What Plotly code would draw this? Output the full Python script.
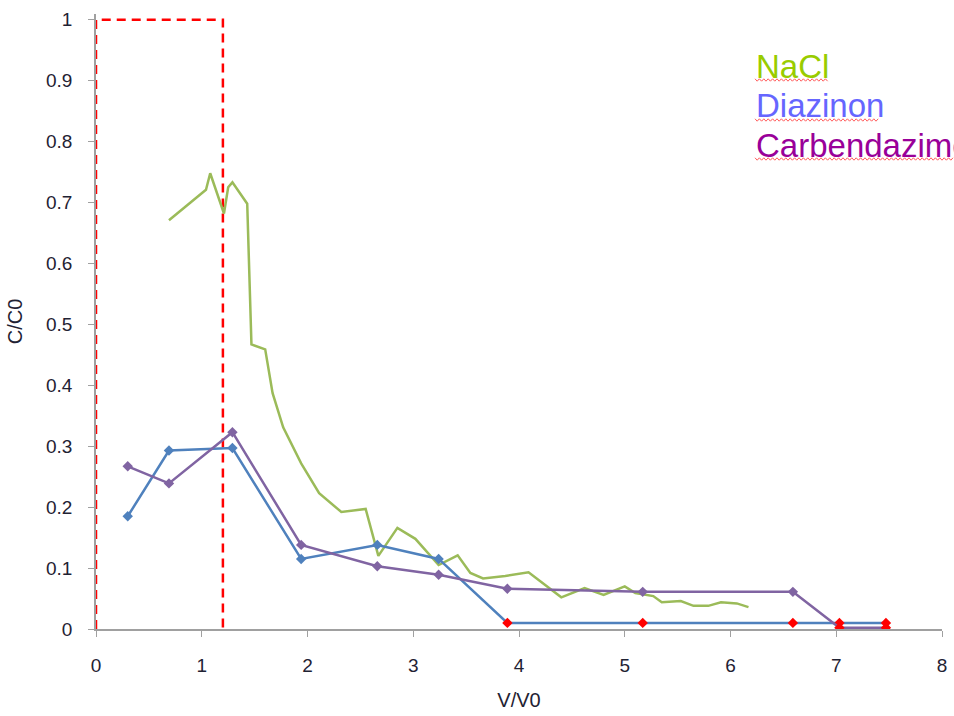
import plotly.graph_objects as go

# NaCl (no markers)
nacl_x = [0.69, 1.04, 1.08, 1.21, 1.25, 1.29, 1.43, 1.47, 1.60, 1.67, 1.77, 1.94, 2.11, 2.32, 2.55, 2.67,
          2.85, 3.02, 3.24, 3.42, 3.54, 3.66, 3.87, 4.09, 4.40, 4.62, 4.80, 5.00, 5.10, 5.27, 5.35,
          5.53, 5.65, 5.79, 5.91, 6.06, 6.17]
nacl_y = [0.671, 0.721, 0.748, 0.682, 0.725, 0.733, 0.698, 0.467, 0.459, 0.387, 0.331, 0.272, 0.223, 0.192,
          0.197, 0.120, 0.166, 0.148, 0.105, 0.121, 0.092, 0.083, 0.087, 0.093, 0.052, 0.067, 0.056,
          0.070, 0.059, 0.054, 0.044, 0.046, 0.038, 0.038, 0.044, 0.042, 0.036]

diaz_x = [0.30, 0.69, 1.29, 1.94, 2.66, 3.24, 3.89, 5.17, 6.59, 7.03, 7.47]
diaz_y = [0.185, 0.293, 0.297, 0.115, 0.138, 0.115, 0.010, 0.010, 0.010, 0.010, 0.010]

carb_x = [0.30, 0.69, 1.29, 1.94, 2.66, 3.24, 3.89, 5.17, 6.59, 7.03, 7.47]
carb_y = [0.267, 0.239, 0.323, 0.138, 0.103, 0.089, 0.066, 0.061, 0.061, 0.002, 0.002]

x_ticks = [0, 1, 2, 3, 4, 5, 6, 7, 8]
y_ticks = [0, 0.1, 0.2, 0.3, 0.4, 0.5, 0.6, 0.7, 0.8, 0.9, 1]
y_labels = ["0", "0.1", "0.2", "0.3", "0.4", "0.5", "0.6", "0.7", "0.8", "0.9", "1"]

box_x = [0, 0, 1.2, 1.2]
box_y = [0, 1, 1, 0]

GREEN = "#9bbb59"
BLUE = "#4f81bd"
PURPLE = "#8064a2"
RED = "#ff0000"

diaz_colors = [BLUE if y > 0.05 else RED for y in diaz_y]
carb_colors = [PURPLE if y > 0.01 else RED for y in carb_y]

fig = go.Figure()
fig.add_trace(go.Scatter(x=box_x, y=box_y, mode="lines",
                         line=dict(color=RED, width=2.5, dash="9px,6px"), hoverinfo="skip"))
fig.add_trace(go.Scatter(x=nacl_x, y=nacl_y, mode="lines", name="NaCl",
                         line=dict(color=GREEN, width=2.5)))
fig.add_trace(go.Scatter(x=diaz_x, y=diaz_y, mode="lines+markers", name="Diazinon",
                         line=dict(color=BLUE, width=2.5),
                         marker=dict(symbol="diamond", size=8, color=diaz_colors)))
fig.add_trace(go.Scatter(x=carb_x, y=carb_y, mode="lines+markers", name="Carbendazime",
                         line=dict(color=PURPLE, width=2.5),
                         marker=dict(symbol="diamond", size=8, color=carb_colors)))

# plot-area geometry (pixels) used to place the text legend in paper coordinates
L, R, T, B, W, H = 96, 12, 14, 87, 954, 716
PW, PH = W - L - R, H - T - B


def px2paper(px, py):
    return (px - L) / PW, (H - B - py) / PH


font = "Liberation Sans, Arial, sans-serif"
legend_items = [("NaCl", "#99cc00", 66, 829, 80), ("Diazinon", "#6666ff", 106, 880, 120),
                ("Carbendazime", "#990099", 146, 954, 159)]
for txt, col, cy, xend, uy in legend_items:
    ax, ay = px2paper(755, cy)
    fig.add_annotation(x=ax - 1 / PW, y=ay, xref="paper", yref="paper", text=txt, showarrow=False,
                       xanchor="left", yanchor="middle", font=dict(family=font, size=33, color=col))
    # spell-check style wavy underline
    pts = []
    xp, k = 755, 0
    while xp <= xend:
        qx, qy = px2paper(xp, uy + (1.2 if k % 2 else -1.2))
        pts.append(("M" if k == 0 else "L") + f"{qx:.5f},{qy:.5f}")
        xp += 2.2
        k += 1
    fig.add_shape(type="path", xref="paper", yref="paper", path=" ".join(pts),
                  line=dict(color="#ff5a5a", width=1))

fig.update_layout(
    width=W, height=H,
    margin=dict(l=L, r=R, t=T, b=B),
    plot_bgcolor="white", paper_bgcolor="white",
    showlegend=False,
    font=dict(family=font, size=19, color="#1f2233"),
    xaxis=dict(range=[0, 8], tickvals=x_ticks, showgrid=False, zeroline=False, automargin=False,
               showline=True, linecolor="#a0a0a0", linewidth=1.5, ticks="outside", ticklen=6,
               tickcolor="#a0a0a0", ticklabelstandoff=12,
               title=dict(text="V/V0", font=dict(size=20), standoff=18)),
    yaxis=dict(range=[0, 1.0094], tickvals=y_ticks, ticktext=y_labels, showgrid=False, zeroline=False,
               automargin=False,
               showline=True, linecolor="#a0a0a0", linewidth=1.5, ticks="outside", ticklen=6,
               tickcolor="#a0a0a0", ticklabelstandoff=12,
               title=dict(text="C/C0", font=dict(size=20), standoff=18)),
)

fig.write_html("out.html", config={"displayModeBar": False},
               post_script="document.body.style.margin='0';document.body.style.padding='0';")
